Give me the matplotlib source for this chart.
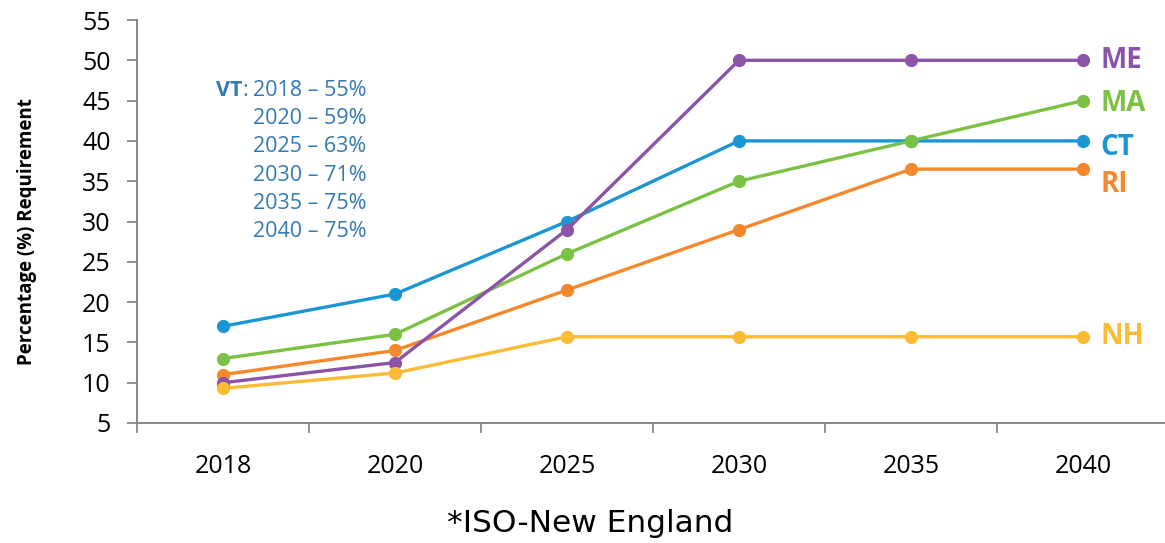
import matplotlib.pyplot as plt

# data
years = ["2018", "2020", "2025", "2030", "2035", "2040"]
states = ["CT", "MA", "RI", "ME", "NH"]
ct = [17, 21, 30, 40, 40, 40]
ma = [13, 16, 26, 35, 40, 45]
ri = [11, 14, 21.5, 29, 36.5, 36.5]
me = [10, 12.5, 29, 50, 50, 50]
nh = [9.3, 11.2, 15.7, 15.7, 15.7, 15.7]
vt_years = ["2018", "2020", "2025", "2030", "2035", "2040"]
vt_values = [55, 59, 63, 71, 75, 75]

series = {"CT": ct, "MA": ma, "RI": ri, "ME": me, "NH": nh}
colors = {"CT": "#1b96d3", "MA": "#7bc143", "RI": "#f5882b",
          "ME": "#8c54a6", "NH": "#fbbb34"}
label_shift = {"CT": -0.8, "MA": -0.3, "RI": -1.9, "ME": 0.0, "NH": 0.0}

plt.rcParams['font.family'] = ['Open Sans', 'DejaVu Sans']

fig = plt.figure(figsize=(11.65, 5.43), dpi=100)
ax = fig.add_axes([137 / 1165, 120 / 543, 1028 / 1165, 403 / 543])

x = list(range(len(years)))
for name in states:
    ax.plot(x, series[name], '-o', color=colors[name], linewidth=2.4,
            markersize=8.5, zorder=3)
    ax.text(5.1, series[name][-1] + label_shift[name], name,
            color=colors[name], fontsize=20, fontweight='bold',
            va='center', ha='left')

ax.set_xlim(-0.5, 5.477)
ax.set_ylim(5, 55)
ax.set_yticks(range(5, 56, 5))
ax.set_xticks(x)
ax.set_xticklabels(years, fontsize=18)
ax.set_xticks([i - 0.5 for i in range(len(years))], minor=True)
ax.tick_params(axis='x', which='major', length=0, pad=22)
ax.tick_params(axis='x', which='minor', length=7, width=1.2, color='#7f7f7f')
ax.tick_params(axis='y', length=7, width=1.2, color='#7f7f7f',
               labelsize=18, pad=12)
for side in ['top', 'right']:
    ax.spines[side].set_visible(False)
for side in ['left', 'bottom']:
    ax.spines[side].set_color('#7f7f7f')
    ax.spines[side].set_linewidth(1.3)

ax.set_ylabel('Percentage (%) Requirement', fontsize=13.5,
              fontweight='bold')
ax.yaxis.set_label_coords(-0.097, 0.474)

# VT annotation block
vt_color = '#3479b6'
for i, (yr, val) in enumerate(zip(vt_years, vt_values)):
    y = 46.3 - i * 3.52
    ax.text(0.174, y, f"{yr} \u2013 {val}%", color=vt_color, fontsize=15.5,
            ha='left', va='center')
ax.text(0.11, 46.3, "VT", color=vt_color, fontsize=15.5,
        ha='right', va='center', fontweight='bold')
ax.text(0.112, 46.3, ":", color=vt_color, fontsize=15.5,
        ha='left', va='center')

fig.text(590 / 1165, 1 - 523 / 543, "*ISO-New England", fontsize=22.5,
         ha='center', va='center', family=['DejaVu Sans'])

fig.savefig('out.png', dpi=100)
